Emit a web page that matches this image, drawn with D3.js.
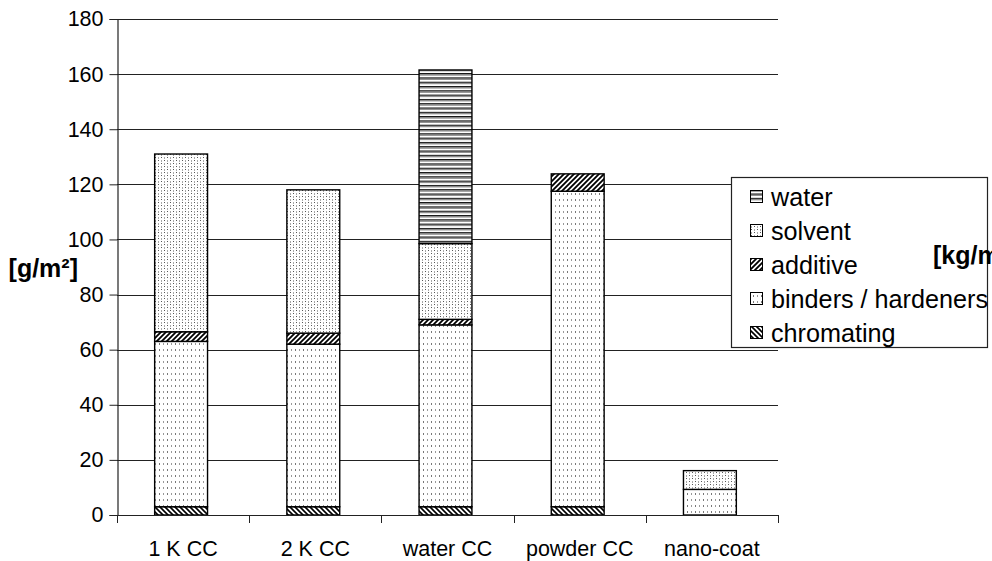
<!DOCTYPE html>
<html>
<head>
<meta charset="utf-8">
<script src="https://cdn.jsdelivr.net/npm/d3@7"></script>
<style>
  html, body { margin: 0; padding: 0; background: #fff; }
  svg { display: block; }
  text { font-family: "Liberation Sans", Arial, sans-serif; fill: #000; }
</style>
</head>
<body>
<svg id="chart" width="992" height="561"></svg>
<script>
// Coating consumption per coil-coating technology, stacked by component [g/m²]
const categories = ["1 K CC", "2 K CC", "water CC", "powder CC", "nano-coat"];
const chromating = [3, 3, 3, 3, 0];
const binders    = [60, 59, 66, 114.5, 9.3];
const additive   = [3.5, 4, 2, 6.3, 0];
const solvent    = [64.5, 52, 27.5, 0, 6.8];
const water      = [0, 0, 63, 0, 0];
const yTicks     = [0, 20, 40, 60, 80, 100, 120, 140, 160, 180];

const seriesNames = ["chromating", "binders / hardeners", "additive", "solvent", "water"];
const seriesValues = [chromating, binders, additive, solvent, water];
const patternIds = ["pChrom", "pBind", "pAdd", "pSolv", "pWater"];

const svg = d3.select("#chart");
const plotLeft = 117, plotRight = 778, plotTop = 19, plotBottom = 515;

// ---- fill patterns ----
const defs = svg.append("defs");

// chromating: back-slash hatching
let p = defs.append("pattern").attr("id", "pChrom").attr("patternUnits", "userSpaceOnUse")
  .attr("width", 5).attr("height", 5);
p.append("rect").attr("width", 5).attr("height", 5).attr("fill", "#fff");
p.append("path").attr("d", "M-1,-1 L6,6 M-1,4 L1,6 M4,-1 L6,1")
  .attr("stroke", "#000").attr("stroke-width", 1.6);

// additive: forward-slash hatching
p = defs.append("pattern").attr("id", "pAdd").attr("patternUnits", "userSpaceOnUse")
  .attr("width", 5).attr("height", 5);
p.append("rect").attr("width", 5).attr("height", 5).attr("fill", "#fff");
p.append("path").attr("d", "M-1,6 L6,-1 M-1,1 L1,-1 M4,6 L6,4")
  .attr("stroke", "#000").attr("stroke-width", 1.8);

// binders / hardeners: sparse small dots
p = defs.append("pattern").attr("id", "pBind").attr("patternUnits", "userSpaceOnUse")
  .attr("width", 8).attr("height", 6);
p.append("rect").attr("width", 8).attr("height", 6).attr("fill", "#fff");
p.append("rect").attr("x", 1).attr("y", 1).attr("width", 1).attr("height", 2).attr("fill", "#777");
p.append("rect").attr("x", 5).attr("y", 1).attr("width", 1).attr("height", 2).attr("fill", "#999");

// solvent: dense staggered dots
p = defs.append("pattern").attr("id", "pSolv").attr("patternUnits", "userSpaceOnUse")
  .attr("width", 6).attr("height", 6);
p.append("rect").attr("width", 6).attr("height", 6).attr("fill", "#fff");
p.append("rect").attr("x", 1).attr("y", 1).attr("width", 1).attr("height", 1).attr("fill", "#555");
p.append("rect").attr("x", 4).attr("y", 1).attr("width", 1).attr("height", 2).attr("fill", "#aaa");
p.append("rect").attr("x", 4).attr("y", 4).attr("width", 1).attr("height", 1).attr("fill", "#555");
p.append("rect").attr("x", 1).attr("y", 4).attr("width", 1).attr("height", 2).attr("fill", "#aaa");

// water: horizontal lines
p = defs.append("pattern").attr("id", "pWater").attr("patternUnits", "userSpaceOnUse")
  .attr("width", 4).attr("height", 4.3);
p.append("rect").attr("width", 4).attr("height", 4.3).attr("fill", "#fff");
p.append("rect").attr("y", 0).attr("width", 4).attr("height", 1.3).attr("fill", "#111");
p.append("rect").attr("y", 1.3).attr("width", 4).attr("height", 1.2).attr("fill", "#888");

// ---- scales ----
const x = d3.scaleBand().domain(categories).range([plotLeft, plotRight])
  .paddingInner(0.6).paddingOuter(0.3);
const y = d3.scaleLinear().domain([0, 180]).range([plotBottom, plotTop]);

// gridlines
svg.append("g").selectAll("line").data(yTicks.filter(t => t > 0)).join("line")
  .attr("x1", plotLeft).attr("x2", plotRight)
  .attr("y1", d => Math.round(y(d)) + 0.5).attr("y2", d => Math.round(y(d)) + 0.5)
  .attr("stroke", "#222").attr("stroke-width", 1);

// stacked bars
const rows = categories.map((c, i) => {
  const r = { category: c };
  seriesNames.forEach((s, k) => r[s] = seriesValues[k][i]);
  return r;
});
const stack = d3.stack().keys(seriesNames)(rows);

// bars sit slightly left of the category centre
const barG = svg.append("g").attr("transform", "translate(-2,0)");
stack.forEach((layer, k) => {
  barG.append("g").selectAll("rect")
    .data(layer.filter(d => d[1] - d[0] > 0))
    .join("rect")
    .attr("x", d => x(d.data.category))
    .attr("width", x.bandwidth())
    .attr("y", d => y(d[1]))
    .attr("height", d => y(d[0]) - y(d[1]))
    .attr("fill", `url(#${patternIds[k]})`)
    .attr("stroke", "#000")
    .attr("stroke-width", 1.4);
});

// y axis
const yAxis = svg.append("g").attr("transform", `translate(${plotLeft + 0.5},0)`)
  .call(d3.axisLeft(y).tickValues(yTicks).tickSize(8).tickPadding(6));
yAxis.select(".domain").attr("stroke", "#222").attr("stroke-width", 1.2);
yAxis.selectAll(".tick line").attr("stroke", "#222");
yAxis.selectAll(".tick text").attr("font-size", 21.5)
  .attr("font-family", "Liberation Sans, Arial, sans-serif").attr("fill", "#000");

// x axis: line, boundary ticks, category labels
const xAxisG = svg.append("g");
xAxisG.append("line").attr("x1", plotLeft).attr("x2", plotRight)
  .attr("y1", plotBottom + 0.5).attr("y2", plotBottom + 0.5)
  .attr("stroke", "#222").attr("stroke-width", 1.2);
const bounds = d3.range(categories.length + 1).map(i => plotLeft + i * x.step());
xAxisG.selectAll(".bt").data(bounds).join("line").attr("class", "bt")
  .attr("x1", d => Math.round(d) + 0.5).attr("x2", d => Math.round(d) + 0.5)
  .attr("y1", plotBottom).attr("y2", plotBottom + 8)
  .attr("stroke", "#222");
xAxisG.selectAll(".cl").data(categories).join("text").attr("class", "cl")
  .attr("x", d => x(d) + x.bandwidth() / 2)
  .attr("y", 556)
  .attr("text-anchor", "middle")
  .attr("font-size", 21.5)
  .text(d => d);

// axis titles
svg.append("text").attr("x", 78).attr("y", 277).attr("text-anchor", "end")
  .attr("font-size", 25).attr("font-weight", "bold").text("[g/m²]");

// legend
const legendNames = seriesNames.slice().reverse();
const legendPats = patternIds.slice().reverse();
const lg = svg.append("g");
lg.append("rect").attr("x", 731.5).attr("y", 177.5).attr("width", 256).attr("height", 170)
  .attr("fill", "#fff").attr("stroke", "#222").attr("stroke-width", 1.2);
legendNames.forEach((n, i) => {
  const cy = 197 + i * 34;
  lg.append("rect").attr("x", 750.5).attr("y", cy - 6.5).attr("width", 12).attr("height", 12)
    .attr("fill", `url(#${legendPats[i]})`).attr("stroke", "#000").attr("stroke-width", 1);
  lg.append("text").attr("x", 771).attr("y", cy).attr("dy", "0.35em")
    .attr("font-size", 25.2).text(n);
});

// secondary-axis title, running past the right edge of the canvas
svg.append("text").attr("x", 933).attr("y", 264)
  .attr("font-size", 25).attr("font-weight", "bold").text("[kg/m²]");
</script>
</body>
</html>
